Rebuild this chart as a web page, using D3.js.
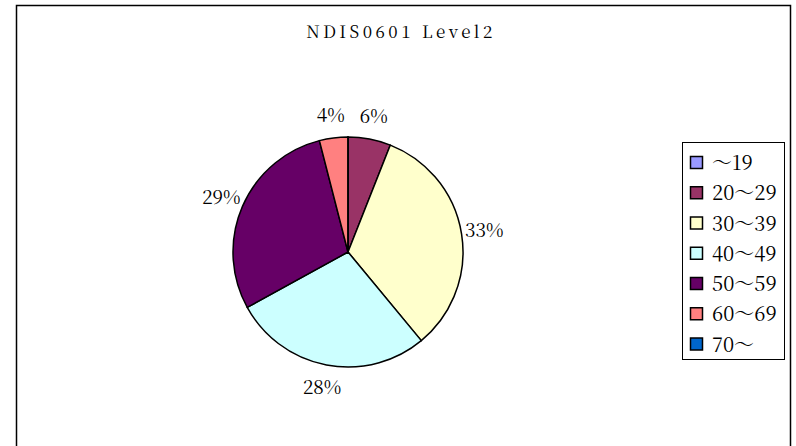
<!DOCTYPE html>
<html><head><meta charset="utf-8">
<script src="https://cdn.jsdelivr.net/npm/d3@7"></script>
<style>body{margin:0;background:#fff}svg{display:block}</style>
</head><body>
<svg id="c" width="796" height="446"></svg>
<script>
const title = "NDIS0601 Level2";
const categories = ["～19","20～29","30～39","40～49","50～59","60～69","70～"];
const values = [0, 6, 33, 28, 29, 4, 0];
const colors = ["#9999FF","#993366","#FFFFCC","#CCFFFF","#660066","#FF8080","#0066CC"];

const svg = d3.select("#c");
const font = "'Noto Serif CJK JP','Liberation Serif',serif";

// chart area border
svg.append("rect").attr("x",16.5).attr("y",5.5).attr("width",774).attr("height",460)
  .attr("fill","#fff").attr("stroke","#000").attr("stroke-width",1.5);

svg.append("text").attr("x",401).attr("y",38).attr("text-anchor","middle")
  .attr("font-family",font).attr("font-size",17).attr("letter-spacing","3.5px")
  .attr("fill","#000").text(title);

const cx = 348, cy = 252, R = 115;
const total = d3.sum(values);
const pie = d3.pie().sort(null).value(d=>d)(values);
const arc = d3.arc().innerRadius(0).outerRadius(R);
const g = svg.append("g").attr("transform",`translate(${cx},${cy})`);
g.selectAll("path").data(pie).join("path")
  .attr("d",arc).attr("fill",(d,i)=>colors[i])
  .attr("stroke","#000").attr("stroke-width",1.5).attr("stroke-linejoin","round");

const labelArc = d3.arc().innerRadius(138).outerRadius(138);
g.selectAll("text").data(pie.filter(d=>d.value>0)).join("text")
  .attr("transform",d=>`translate(${labelArc.centroid(d)})`)
  .attr("text-anchor","middle").attr("dy","0.35em")
  .attr("font-family",font).attr("font-size",19).attr("fill","#000")
  .text(d=>Math.round(d.value/total*100)+"%");

// legend
const lx = 682, ly = 142.5;
svg.append("rect").attr("x",lx+0.5).attr("y",ly).attr("width",102).attr("height",217)
  .attr("fill","#fff").attr("stroke","#000").attr("stroke-width",1);
const y = d3.scalePoint().domain(categories).range([ly+20.5, ly+202]);
const lg = svg.append("g");
const row = lg.selectAll("g").data(categories).join("g")
  .attr("transform",d=>`translate(${lx},${y(d)})`);
row.append("rect").attr("x",8.5).attr("y",-6.5).attr("width",12).attr("height",12)
  .attr("fill",(d,i)=>colors[i]).attr("stroke","#000").attr("stroke-width",1.5);
row.append("text").attr("x",30).attr("dy","0.36em")
  .attr("font-family",font).attr("font-size",20).attr("fill","#000").text(d=>d);
</script>
</body></html>
